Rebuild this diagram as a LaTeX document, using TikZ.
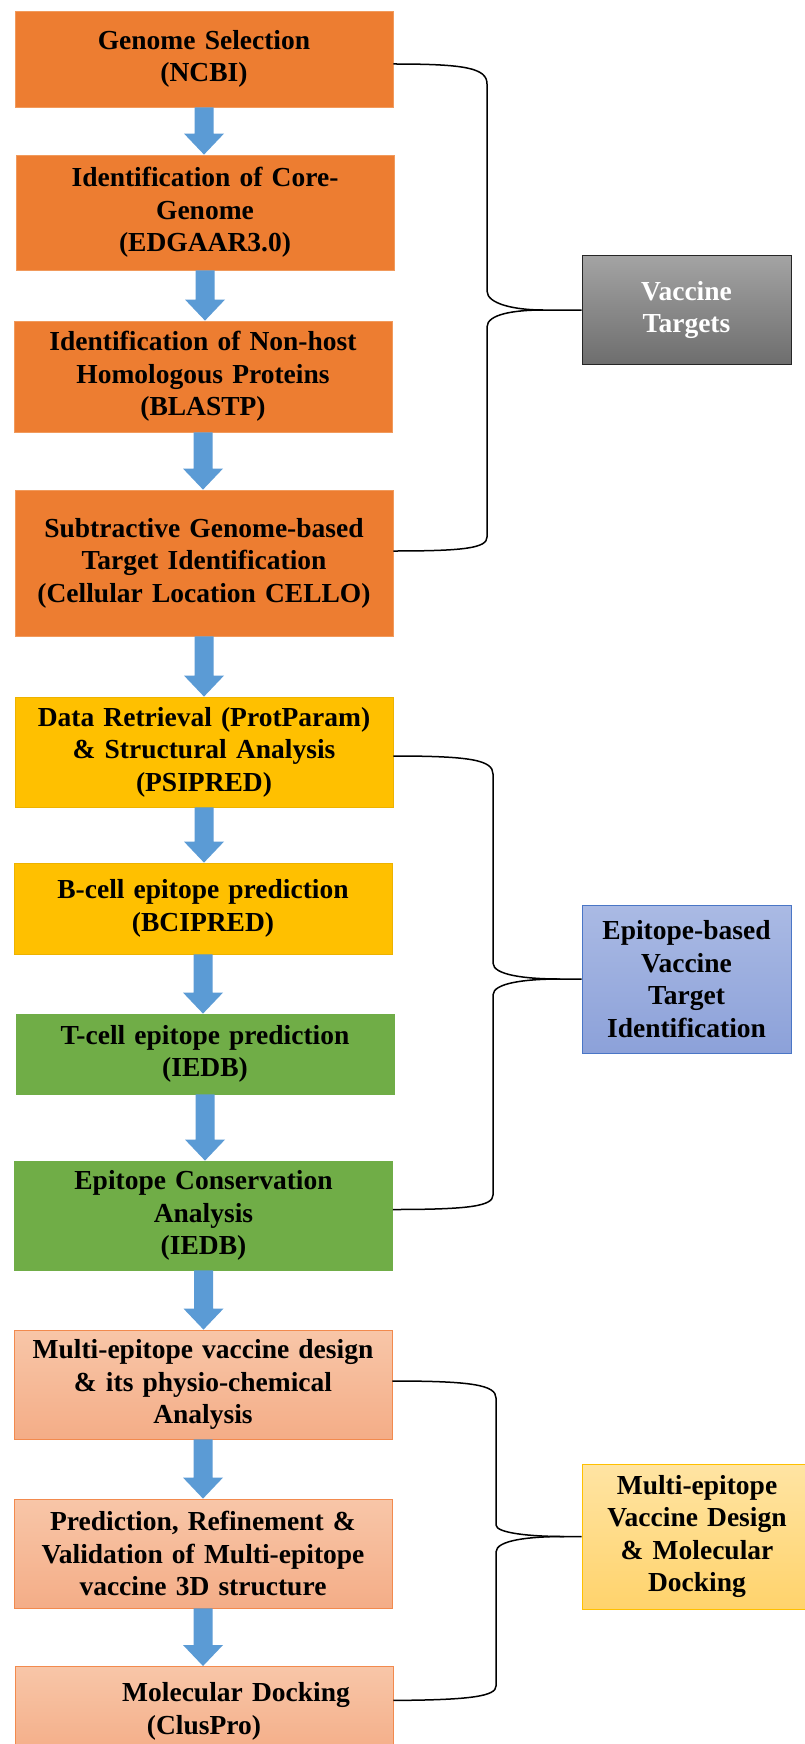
\documentclass[tikz,border=0pt]{standalone}
\usepackage{fontspec}
\setmainfont{Liberation Serif}
\usetikzlibrary{calc}
\definecolor{org}{HTML}{ED7D31}
\definecolor{orgline}{HTML}{F19A5C}
\definecolor{yel}{HTML}{FFC000}
\definecolor{yelline}{HTML}{EDB200}
\definecolor{grn}{HTML}{70AD47}
\definecolor{saltop}{HTML}{F8C6A8}
\definecolor{salbot}{HTML}{F4AD87}
\definecolor{salline}{HTML}{F28A4E}
\definecolor{arrowblue}{HTML}{5B9BD5}
\definecolor{graytop}{HTML}{A3A3A3}
\definecolor{graybot}{HTML}{6E6E6E}
\definecolor{bluetop}{HTML}{AABAE4}
\definecolor{bluebot}{HTML}{8CA1D9}
\definecolor{blueline}{HTML}{4A76C6}
\definecolor{ctop}{HTML}{FFE4A3}
\definecolor{cbot}{HTML}{FFD36C}
\newcommand{\blockarr}[2]{%
  \fill[arrowblue] let \p1=(#1.south), \p2=(#2.north) in
    (\x1-9.5pt,\y1) -- (\x1+9.5pt,\y1) -- (\x1+9.5pt,\y2+21pt) -- (\x1+20pt,\y2+21pt)
    -- (\x1,\y2) -- (\x1-20pt,\y2+21pt) -- (\x1-9.5pt,\y2+21pt) -- cycle;}
\begin{document}
\begin{tikzpicture}[x=1pt,y=-1pt,
  box/.style={rectangle, minimum width=378pt, inner sep=0pt, align=center,
    text width=372pt, font=\fontsize{27.5}{32.5}\selectfont\bfseries, line width=0.8pt},
  orgbox/.style={box, fill=org, draw=orgline},
  yelbox/.style={box, fill=yel, draw=yelline},
  grnbox/.style={box, fill=grn, draw=grn},
  salbox/.style={box, top color=saltop, bottom color=salbot, draw=salline},
  sidebox/.style={rectangle, minimum width=209pt, inner sep=0pt, align=center,
    text width=205pt, font=\fontsize{27.5}{32.5}\selectfont\bfseries, line width=1pt},
  brace/.style={draw=black, line width=1.5pt}]
\useasboundingbox (0,0) rectangle (804,1744);
\fill[white] (0,0) rectangle (804,1744);

\node[orgbox, minimum height=96pt] (b1) at (204,59) {Genome Selection\\(NCBI)};
\node[orgbox, minimum height=115pt] (b2) at (205,212.5) {Identification of Core-\\Genome\\(EDGAAR3.0)};
\node[orgbox, minimum height=111pt] (b3) at (203,376.5) {Identification of Non-host\\Homologous Proteins\\(BLASTP)};
\node[orgbox, minimum height=146pt] (b4) at (204,563) {Subtractive Genome-based\\Target Identification\\(Cellular Location CELLO)};
\node[yelbox, minimum height=110pt] (b5) at (204,752) {Data Retrieval (ProtParam)\\\& Structural Analysis\\(PSIPRED)};
\node[yelbox, minimum height=91pt] (b6) at (203,908.5) {B-cell epitope prediction\\(BCIPRED)};
\node[grnbox, minimum height=80pt] (b7) at (205,1054) {T-cell epitope prediction\\(IEDB)};
\node[grnbox, minimum height=109pt] (b8) at (203.5,1215.5) {Epitope Conservation\\Analysis\\(IEDB)};
\node[salbox, minimum height=109pt] (b9) at (203,1384.5) {Multi-epitope vaccine design\\\& its physio-chemical\\Analysis};
\node[salbox, minimum height=109pt] (b10) at (203,1553.5) {Prediction, Refinement \&\\Validation of Multi-epitope\\vaccine 3D structure};
\node[salbox, minimum height=90pt, anchor=north] (b11) at (204,1666) {\hspace*{64pt}Molecular Docking\\(ClusPro)};

\foreach \a/\b in {b1/b2,b2/b3,b3/b4,b4/b5,b5/b6,b6/b7,b7/b8,b8/b9,b9/b10,b10/b11}
  {\blockarr{\a}{\b}}

\node[sidebox, top color=graytop, bottom color=graybot, draw=black!85, text=white, minimum height=108pt] (va) at (686.5,310) {Vaccine\\Targets};
\node[sidebox, top color=bluetop, bottom color=bluebot, draw=blueline, minimum height=148pt] (vb) at (686.5,979) {Epitope-based\\Vaccine\\Target\\Identification};
\node[sidebox, top color=ctop, bottom color=cbot, draw=yel, minimum width=230pt, minimum height=145pt] (vc) at (697,1536.5) {Multi-epitope\\Vaccine Design\\\& Molecular\\Docking};

\coordinate (t1) at (543,310);
\coordinate (t2) at (560,979);
\coordinate (t3) at (564,1536.5);

\draw[brace] ([yshift=-5pt]b1.east) .. controls (465,64) and (487,68) .. (487,84) -- (487,291)
  .. controls (487,304) and (515,310) .. (t1) -- (va.west);
\draw[brace] (t1) .. controls (515,310) and (487,314) .. (487,327) -- (487,537)
  .. controls (487,548) and (465,551) .. ([yshift=12pt]b4.east);

\draw[brace] ([yshift=-4pt]b5.east) .. controls (470,756) and (493,760) .. (493,774) -- (493,963)
  .. controls (493,975) and (525,979) .. (t2) -- (vb.west);
\draw[brace] (t2) .. controls (525,979) and (493,983) .. (493,995) -- (493,1195)
  .. controls (493,1206) and (470,1209.5) .. ([yshift=6pt]b8.east);

\draw[brace] ([yshift=3.5pt]b9.east) .. controls (472,1381) and (496,1385) .. (496,1398) -- (496,1525)
  .. controls (496,1533) and (530,1536.5) .. (t3) -- (vc.west);
\draw[brace] (t3) .. controls (530,1536.5) and (496,1540) .. (496,1552) -- (496,1686)
  .. controls (496,1696) and (472,1700) .. ([yshift=11pt]b11.east);
\end{tikzpicture}
\end{document}
